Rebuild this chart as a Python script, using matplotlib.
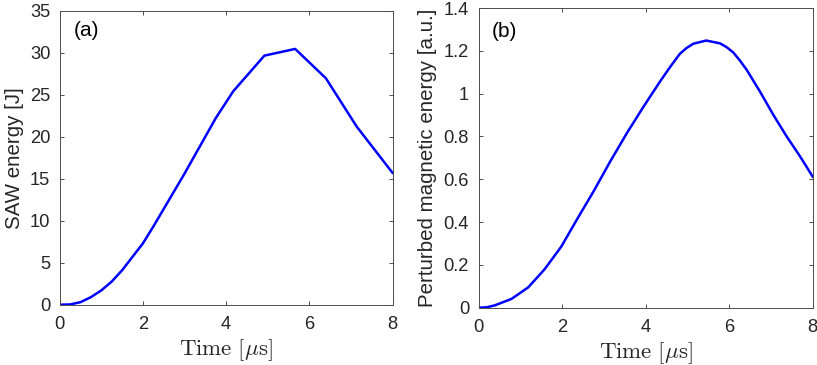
import matplotlib
matplotlib.use("Agg")
import matplotlib.pyplot as plt

# ---- data ----
t_saw = [0, 0.25, 0.5, 0.75, 1.0, 1.25, 1.5, 1.75, 2.0, 2.25, 2.5, 2.75, 3.0,
         3.25, 3.5, 3.75, 4.17, 4.92, 5.66, 6.40, 7.14, 8.0]
e_saw = [0, 0.03, 0.3, 0.9, 1.7, 2.75, 4.1, 5.7, 7.3, 9.3, 11.4, 13.5, 15.6,
         17.8, 20.0, 22.2, 25.4, 29.65, 30.45, 26.95, 21.2, 15.7]

t_mag = [0, 0.2, 0.39, 0.79, 1.19, 1.58, 1.98, 2.38, 2.75, 3.15, 3.55, 3.95,
         4.35, 4.6, 4.82, 4.98, 5.14, 5.45, 5.78, 5.94, 6.10, 6.26, 6.42,
         6.74, 7.06, 7.38, 7.70, 8.0]
e_mag = [0, 0.002, 0.011, 0.041, 0.095, 0.179, 0.285, 0.42, 0.542, 0.682,
         0.815, 0.939, 1.058, 1.128, 1.186, 1.213, 1.233, 1.248, 1.235, 1.217,
         1.192, 1.154, 1.111, 1.009, 0.900, 0.799, 0.706, 0.612]

xticks = [0, 2, 4, 6, 8]
yticks_a = [0, 5, 10, 15, 20, 25, 30, 35]
yticks_b = [0, 0.2, 0.4, 0.6, 0.8, 1.0, 1.2, 1.4]
yticklabels_b = ["0", "0.2", "0.4", "0.6", "0.8", "1", "1.2", "1.4"]

plt.rcParams["font.family"] = ["Liberation Sans", "DejaVu Sans"]
plt.rcParams["mathtext.fontset"] = "cm"

W, H = 817, 365
fig = plt.figure(figsize=(W / 100, H / 100), dpi=100)

def frac(x0, x1, ytop, ybot):
    return [x0 / W, 1 - ybot / H, (x1 - x0) / W, (ybot - ytop) / H]

ax1 = fig.add_axes(frac(59.7, 392.5, 10.7, 304.7))
ax2 = fig.add_axes(frac(478.5, 812.7, 8.0, 307.7))

tc = "#262626"
for ax in (ax1, ax2):
    for s in ax.spines.values():
        s.set_color("#4d4d4d")
        s.set_linewidth(0.7)
    ax.tick_params(direction="in", top=True, right=True, length=3,
                   width=0.7, color="#4d4d4d", labelsize=13.2, labelcolor=tc)
    ax.tick_params(axis="y", pad=6.8)
    ax.tick_params(axis="x", pad=8.3)
    ax.set_xlim(0, 8)
    ax.set_xticks(xticks)
    ax.set_xticklabels([str(v) for v in xticks])
    ax.set_xlabel(r"$\mathrm{Time}\ [\mu\mathrm{s}]$", fontsize=16.5,
                  color=tc, labelpad=3)

ax1.plot(t_saw, e_saw, color="#0000ff", lw=1.8)
ax1.set_ylim(0, 35)
ax1.set_yticks(yticks_a)
ax1.set_yticklabels([str(v) for v in yticks_a])
ax1.set_ylabel("SAW energy [J]", fontsize=14.8, color=tc, labelpad=4)
ax1.text(0.043, 0.931, "(a)", transform=ax1.transAxes, fontsize=15,
         color="black", ha="left", va="center")

ax2.plot(t_mag, e_mag, color="#0000ff", lw=1.8)
ax2.set_ylim(0, 1.4)
ax2.set_yticks(yticks_b)
ax2.set_yticklabels(yticklabels_b)
ax2.set_ylabel("Perturbed magnetic energy [a.u.]", fontsize=14.8, color=tc,
               labelpad=5)
ax2.text(0.0395, 0.923, "(b)", transform=ax2.transAxes, fontsize=15,
         color="black", ha="left", va="center")

fig.savefig("out.png", dpi=100)
